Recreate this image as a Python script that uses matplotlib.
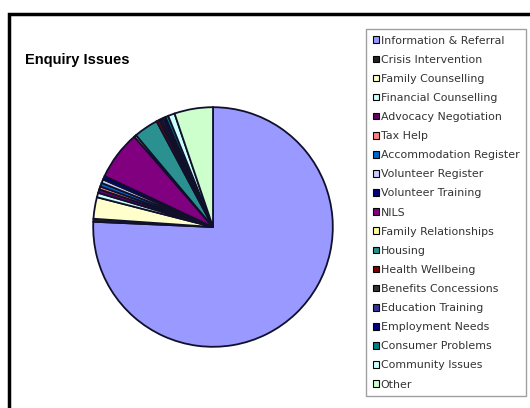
import matplotlib
matplotlib.use("Agg")
import matplotlib.pyplot as plt
from matplotlib.patches import Patch, Rectangle

# enquiry categories and their share of all enquiries (%)
issues = ["Information & Referral", "Crisis Intervention", "Family Counselling",
          "Financial Counselling", "Advocacy Negotiation", "Tax Help",
          "Accommodation Register", "Volunteer Register", "Volunteer Training",
          "NILS", "Family Relationships", "Housing", "Health Wellbeing",
          "Benefits Concessions", "Education Training", "Employment Needs",
          "Consumer Problems", "Community Issues", "Other"]
shares = [75.7, 0.4, 2.9, 0.6, 0.5, 0.4, 0.5, 0.5, 0.5, 6.6, 0.3, 3.3, 0.4,
          0.3, 0.3, 0.3, 0.4, 0.9, 5.2]
colours = ["#9999FF", "#222222", "#FFFFCC", "#CCFFFF", "#660066", "#FF8080",
           "#0066CC", "#CCCCFF", "#000080", "#800080", "#FFFF99", "#2A9090",
           "#800000", "#333333", "#333399", "#000080", "#008080", "#CCFFFF",
           "#CCFFCC"]

W, H = 530, 408
fig = plt.figure(figsize=(W / 100, H / 100), dpi=100)

# chart frame, runs off the right and bottom edges
fig.patches.append(Rectangle((9 / W, -0.05), 1.1, (H - 14) / H + 0.05,
                             transform=fig.transFigure, fill=False,
                             edgecolor="black", linewidth=2.5))

fig.text(25 / W, 1 - 60 / H, "Enquiry Issues", fontsize=10.5,
         fontweight="bold", family="Liberation Sans", va="center")

cx, cy, r = 213, 227, 121
ax = fig.add_axes([(cx - r) / W, (H - cy - r) / H, 2 * r / W, 2 * r / H])
ax.pie(shares, colors=colours, startangle=90, counterclock=False,
       wedgeprops=dict(edgecolor="#10102a", linewidth=1.3))
ax.set_xlim(-1.01, 1.01)
ax.set_ylim(-1.01, 1.01)
ax.set_aspect("auto")

handles = [Patch(facecolor=c, edgecolor="black", linewidth=0.8) for c in colours]
leg = fig.legend(handles, issues, loc="upper left",
                 bbox_to_anchor=(366 / W, 1 - 29 / H),
                 bbox_transform=fig.transFigure,
                 prop=dict(family="DejaVu Sans", size=7.9),
                 handlelength=0.55, handleheight=0.55, handletextpad=0.2,
                 labelspacing=0.83, borderpad=0.6, borderaxespad=0,
                 fancybox=False, frameon=True)
leg.get_frame().set_edgecolor("#888888")
leg.get_frame().set_linewidth(1.0)
for t in leg.get_texts():
    t.set_color("#333333")

fig.savefig("out.png", dpi=100)
